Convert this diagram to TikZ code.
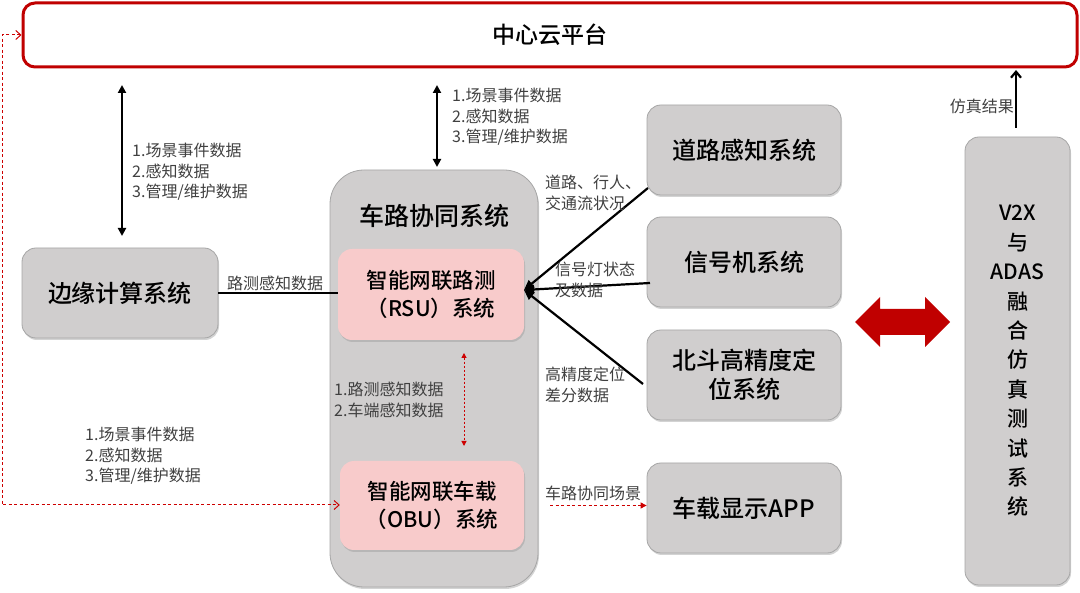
\documentclass[tikz,border=0pt]{standalone}
\usepackage{fontspec}
\setmainfont{Noto Sans CJK SC}
\newfontfamily\medfont{Noto Sans CJK SC Medium}
\usetikzlibrary{arrows.meta,shadows}
\definecolor{boxgray}{HTML}{D0CECE}
\definecolor{boxedge}{HTML}{A6A6A6}
\definecolor{pinkbox}{HTML}{F8CBCB}
\definecolor{darkred}{HTML}{C00000}
\definecolor{lbl}{HTML}{404040}
\tikzset{
  graybox/.style={draw=boxedge,line width=0.8pt,fill=boxgray,rounded corners=14pt,
    drop shadow={shadow xshift=1pt,shadow yshift=-2pt,opacity=0.35},
    align=center,font=\fontsize{24}{30}\medfont},
  pinkb/.style={draw=none,fill=pinkbox,rounded corners=14pt,align=center,
    drop shadow={shadow xshift=1pt,shadow yshift=-2pt,opacity=0.3},
    font=\fontsize{21.5}{28}\medfont},
  lab/.style={text=lbl,align=left,font=\fontsize{16}{20.5}\selectfont,inner sep=0pt},
  blk/.style={line width=2.2pt,black},
  reddash/.style={darkred!80!red,dashed,line width=1pt,dash pattern=on 3pt off 2.5pt},
}
\begin{document}
\begin{tikzpicture}[x=1pt,y=-1pt]
\useasboundingbox (0,0) rectangle (1080,593);
% top cloud platform
\node[draw=darkred,line width=3pt,fill=white,rounded corners=12pt,minimum width=1054pt,minimum height=64pt,
  font=\fontsize{23}{28}\medfont] (cloud) at (550,35) {中心云平台};
% edge computing
\node[graybox,minimum width=196pt,minimum height=90pt] (edge) at (120,293) {边缘计算系统};
% vehicle-road system big box
\node[draw=boxedge,line width=0.8pt,fill=boxgray,rounded corners=34pt,minimum width=208pt,minimum height=417pt,
  drop shadow={shadow xshift=1pt,shadow yshift=-2pt,opacity=0.35}] (vrc) at (434,378.5) {};
\node[font=\fontsize{25}{30}\medfont] (vrct) at (434,216) {车路协同系统};
\node[pinkb,minimum width=186pt,minimum height=91pt] (rsu) at (431,294.5) {智能网联路测\\（RSU）系统};
\node[pinkb,minimum width=184pt,minimum height=89pt] (obu) at (432,505.5) {智能网联车载\\（OBU）系统};
% right boxes
\node[graybox,minimum width=194pt,minimum height=90pt] (road) at (744,150) {道路感知系统};
\node[graybox,minimum width=194pt,minimum height=90pt] (sig) at (744,262) {信号机系统};
\node[graybox,minimum width=194pt,minimum height=90pt,font=\fontsize{24}{29}\medfont] (bd) at (744,375) {北斗高精度定\\位系统};
\node[graybox,minimum width=194pt,minimum height=90pt] (app) at (744,508) {车载显示APP};
% V2X box
\node[graybox,minimum width=105pt,minimum height=448pt,font=\fontsize{21}{29.4}\medfont] (v2x) at (1017.5,361)
  {V2X\\与\\ADAS\\融\\合\\仿\\真\\测\\试\\系\\统};
% coordinates
\coordinate (la) at (122,85);
\coordinate (lb) at (122,236);
\coordinate (ma) at (437,85);
\coordinate (mb) at (437,167);
\coordinate (rsuin) at (524,290);
\coordinate (roadout) at (648,188);
\coordinate (sigout) at (650,283);
\coordinate (bdout) at (643,384);
\coordinate (da) at (464,353);
\coordinate (db) at (464,446);
\coordinate (ltop) at (2,35);
\coordinate (lbot) at (2,505);
% double arrows black
\draw[blk,{Triangle[width=8pt,length=8pt]}-{Triangle[width=8pt,length=8pt]}] (la) -- (lb);
\draw[blk,{Triangle[width=8pt,length=8pt]}-{Triangle[width=8pt,length=8pt]}] (ma) -- (mb);
\node[lab,anchor=north west] (l1) at (132,143) {1.场景事件数据\\2.感知数据\\3.管理/维护数据};
\node[lab,anchor=north west] (l2) at (452,88) {1.场景事件数据\\2.感知数据\\3.管理/维护数据};
% edge to RSU
\draw[blk] (edge.east) -- (rsu.west |- edge.east);
\node[lab,anchor=south] (l3) at (275,291) {路测感知数据};
% right inputs
\draw[blk,-{Triangle[width=9pt,length=10pt]}] (roadout) -- (rsuin);
\draw[blk,-{Triangle[width=9pt,length=10pt]}] (sigout) -- (rsuin);
\draw[blk,-{Triangle[width=9pt,length=10pt]}] (bdout) -- (rsuin);
\node[lab,anchor=north west] (l4) at (545,175) {道路、行人、\\交通流状况};
\node[lab,anchor=north west] (l5) at (555,262) {信号灯状态\\及数据};
\node[lab,anchor=north west] (l6) at (545,367) {高精度定位\\差分数据};
% red dotted RSU-OBU
\draw[reddash,dash pattern=on 2pt off 2pt,{Triangle[width=5pt,length=5pt]}-{Triangle[width=5pt,length=5pt]}] (da) -- (db);
\node[lab,anchor=north west] (l7) at (334,382) {1.路测感知数据\\2.车端感知数据};
% OBU to APP
\draw[reddash,-{Triangle[width=6pt,length=6pt]}] (obu.east) ++(26,0) coordinate (oa) -- (app.west |- oa);
\node[lab,anchor=south west] (l8) at (545,501) {车路协同场景};
% left dashed loop
\draw[reddash,{Straight Barb[length=5pt,width=9pt]}-{Straight Barb[length=5pt,width=9pt]}] (cloud.west) -- (ltop) -- (lbot) -- (obu.west |- lbot);
\node[lab,anchor=north west] (l9) at (85,427) {1.场景事件数据\\2.感知数据\\3.管理/维护数据};
% big red double arrow
\fill[darkred] (855,322) -- (880,297) -- (880,309) -- (925,309) -- (925,297) -- (950,322)
  -- (925,347) -- (925,335) -- (880,335) -- (880,347) -- cycle;
% sim result
\draw[blk,-{Straight Barb[length=6pt,width=10pt]}] (v2x.north -| 1016,0) ++(0,-9) coordinate (sa) -- (1016,70);
\node[lab,anchor=east] (l10) at (1014,106) {仿真结果};
\end{tikzpicture}
\end{document}
